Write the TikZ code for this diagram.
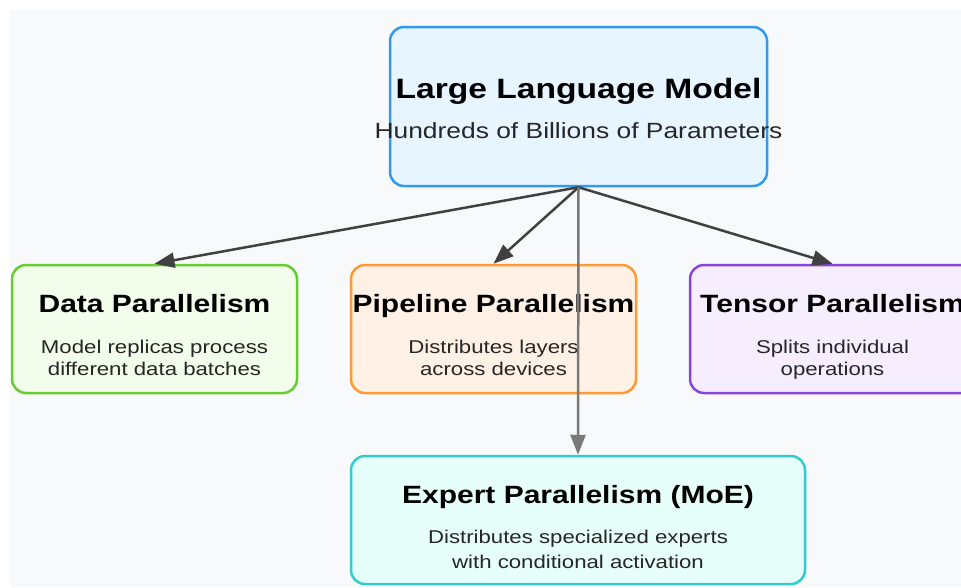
\documentclass[tikz,border=0pt]{standalone}
\usepackage{fontspec}
\setmainfont[FakeStretch=1.2]{Liberation Sans}
\usetikzlibrary{positioning,arrows.meta}
\definecolor{bgc}{HTML}{F8F9FA}
\definecolor{llmline}{HTML}{3399EE}
\definecolor{llmfill}{HTML}{E6F5FF}
\definecolor{dataline}{HTML}{66CC33}
\definecolor{datafill}{HTML}{F3FDEB}
\definecolor{pipeline}{HTML}{FF9933}
\definecolor{pipefill}{HTML}{FFF1E6}
\definecolor{tensline}{HTML}{8844DD}
\definecolor{tensfill}{HTML}{F6EEFF}
\definecolor{expline}{HTML}{33CCCC}
\definecolor{expfill}{HTML}{E6FFFA}
\definecolor{arrc}{HTML}{404040}
\tikzset{
box/.style={draw, rounded corners=14pt, line width=2.5pt,
    minimum width=285pt, minimum height=128pt},
ttl/.style={anchor=base, font=\fontsize{25}{30}\selectfont\bfseries, text=black},
txt/.style={anchor=base, font=\fontsize{18.5}{22}\selectfont, text=black!85},
link/.style={draw=arrc, line width=2.5pt}
}

\begin{document}
\begin{tikzpicture}[x=1pt,y=-1pt,>={Triangle[length=20pt,width=15pt]}]
\useasboundingbox (0,0) rectangle (961,587);
\fill[bgc] (10,10) rectangle (961,587);

% top model
\node[box, draw=llmline, fill=llmfill, minimum width=377pt, minimum height=159pt] (llm) at (578.5,106.5) {};
\node[ttl, font=\fontsize{28}{34}\selectfont\bfseries] (llmt) at (578.5,98) {Large Language Model};
\node[txt, font=\fontsize{22}{26}\selectfont] (llms) at (578.5,138) {Hundreds of Billions of Parameters};

% strategies
\node[box, draw=dataline, fill=datafill] (data) at (154.5,329) {};
\node[ttl] (datat) at (154.5,312) {Data Parallelism};
\node[txt] (datas1) at (154.5,353) {Model replicas process};
\node[txt] (datas2) at (154.5,375) {different data batches};

\node[box, draw=pipeline, fill=pipefill] (pipe) at (493.5,329) {};
\node[ttl] (pipet) at (493.5,312) {Pipeline Parallelism};
\node[txt] (pipes1) at (493.5,353) {Distributes layers};
\node[txt] (pipes2) at (493.5,375) {across devices};

\node[box, draw=tensline, fill=tensfill] (tens) at (832.5,329) {};
\node[ttl] (tenst) at (832.5,312) {Tensor Parallelism};
\node[txt] (tenss1) at (832.5,353) {Splits individual};
\node[txt] (tenss2) at (832.5,375) {operations};

\node[box, draw=expline, fill=expfill, minimum width=454pt] (exp) at (578,520) {};
\node[ttl] (expt) at (578,503) {Expert Parallelism (MoE)};
\node[txt] (exps1) at (578,543) {Distributes specialized experts};
\node[txt] (exps2) at (578,568) {with conditional activation};

% arrows
\draw[link,->] (llm.south) -- (data.north);
\draw[link,->] (llm.south) -- (pipe.north);
\draw[link,->] (llm.south) -- (tens.north);
\draw[link,->,draw=arrc!70] (llm.south) -- (exp.north);
\end{tikzpicture}
\end{document}
